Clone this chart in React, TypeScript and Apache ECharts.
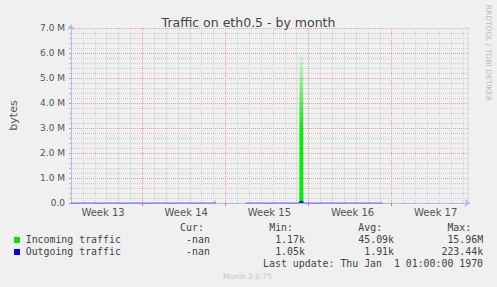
import React, { useEffect, useRef } from "react";
import * as echarts from "echarts";

const chartTitle = "Traffic on eth0.5 - by month";
const yAxisName = "bytes";
const yMin = 0;
const yMax = 7e6;
const yInterval = 1e6;
const xMinDays = 0;
const xMaxDays = 33.42;
const weekBoundaries = [6, 13, 20, 27];
const weekLabelPositions = [2.7, 9.7, 16.7, 23.7, 30.7];
const weekLabels = ["Week 13", "Week 14", "Week 15", "Week 16", "Week 17"];

// [day offset, bytes]; null breaks the line (no data)
const incomingTraffic: [number, number | null][] = [
  [0, 1250], [2.5, 1180], [5, 1310], [7.5, 1270], [10, 1220],
  [12.12, 1300], [12.17, 140000], [12.21, 1400], [12.3, null],
  [14.67, 1200], [17, 1260], [19.22, 1350], [19.25, 5930000],
  [19.53, 5930000], [19.56, 1400], [22, 1240], [24.5, 1190], [26.25, 1210],
];
const outgoingTraffic: [number, number | null][] = [
  [0, 1080], [2.5, 1050], [5, 1120], [7.5, 1090], [10, 1060],
  [12.17, 1100], [12.3, null],
  [14.67, 1070], [17, 1110], [19.22, 1150], [19.25, 70000],
  [19.53, 70000], [19.56, 1150], [22, 1080], [24.5, 1060], [26.25, 1090],
];

const legendNames = ["Incoming traffic", "Outgoing traffic"];
const legendColors = ["#00e800", "#0000ff"];
const statHeaders = ["Cur:", "Min:", "Avg:", "Max:"];
const incomingStats = ["-nan", "1.17k", "45.09k", "15.96M"];
const outgoingStats = ["-nan", "1.05k", "1.91k", "223.44k"];
const lastUpdate = "Last update: Thu Jan  1 01:00:00 1970";
const sideCredit = "RRDTOOL / TOBI OETIKER";
const footer = "Munin 2.0.75";

export default function App() {
  const ref = useRef<HTMLDivElement>(null);
  useEffect(() => {
    const chart = echarts.init(ref.current!, null, { renderer: "svg" });
    const mono = "DejaVu Sans Mono";
    const x0 = 25.7;
    const cw = 5.94;
    const headerEndCols = [30, 45, 60, 75];
    const valueEndCols = [31, 47, 62, 77];
    const rowY = [227.5, 239.5, 251.5, 263.5];
    const textColor = "#444";
    const graphics: any[] = [];
    statHeaders.forEach((h, i) => {
      graphics.push({ type: "text", x: x0 + headerEndCols[i] * cw, y: rowY[0],
        style: { text: h, font: `9.9px '${mono}'`, fill: textColor, textAlign: "right", textVerticalAlign: "middle" } });
    });
    [incomingStats, outgoingStats].forEach((row, r) => {
      graphics.push({ type: "rect", shape: { x: 14, y: rowY[r + 1] - 2.5, width: 6, height: 6 }, style: { fill: legendColors[r] } });
      graphics.push({ type: "text", x: x0, y: rowY[r + 1],
        style: { text: legendNames[r], font: `9.9px '${mono}'`, fill: textColor, textAlign: "left", textVerticalAlign: "middle" } });
      row.forEach((v, i) => {
        graphics.push({ type: "text", x: x0 + valueEndCols[i] * cw, y: rowY[r + 1],
          style: { text: v, font: `9.9px '${mono}'`, fill: textColor, textAlign: "right", textVerticalAlign: "middle" } });
      });
    });
    graphics.push({ type: "text", x: x0 + 77 * cw, y: rowY[3],
      style: { text: lastUpdate, font: `9.9px '${mono}'`, fill: textColor, textAlign: "right", textVerticalAlign: "middle" } });
    graphics.push({ type: "text", x: 488, y: 53, rotation: -Math.PI / 2,
      style: { text: sideCredit, font: "7.5px 'DejaVu Sans'", fill: "#bbbbbb", textAlign: "center", textVerticalAlign: "middle" } });
    graphics.push({ type: "text", x: 247.5, y: 276,
      style: { text: footer, font: "7.5px 'DejaVu Sans'", fill: "#c4c4c4", textAlign: "center", textVerticalAlign: "middle" } });

    const gray = "#cdcdcd";
    const red = "#e6a0a0";
    const dot = [1, 1];
    const axisBlue = "#b8b8f0";
    // one colour per day line (0..33 plus the right edge): week boundaries red, others gray
    const dayLineColors: string[] = [];
    const lineCount = Math.floor(xMaxDays) + 2;
    for (let i = 0; i < lineCount; i++) dayLineColors.push(weekBoundaries.includes(i) ? red : gray);

    const option: any = {
      animation: false,
      backgroundColor: "#f0f0f0",
      title: {
        text: chartTitle, left: "center", top: 11,
        textStyle: { fontFamily: "DejaVu Sans", fontSize: 12.5, fontWeight: "normal", color: "#444" },
      },
      grid: { left: 67, top: 28, width: 401, height: 175, containLabel: false },
      xAxis: [
        {
          type: "value", min: xMinDays, max: xMaxDays, interval: 1,
          axisLine: { show: true, lineStyle: { color: axisBlue, width: 1 }, symbol: ["none", "arrow"], symbolSize: [6, 6], symbolOffset: [0, 2.5] },
          axisTick: { show: false }, axisLabel: { show: false },
          splitLine: { show: true, showMinLine: true, showMaxLine: true, lineStyle: { color: dayLineColors, type: dot, width: 1 } },
        },
        {
          type: "value", min: xMinDays, max: xMaxDays, position: "bottom",
          axisLine: { show: false },
          axisTick: { show: true, length: 3, inside: false, lineStyle: { color: "#e08080" }, customValues: weekBoundaries },
          axisLabel: {
            show: true, margin: 4, customValues: weekLabelPositions,
            fontFamily: "DejaVu Sans", fontSize: 10, color: "#555",
            formatter: (v: number) => {
              const i = weekLabelPositions.findIndex((p) => Math.abs(p - v) < 1e-6);
              return i >= 0 ? weekLabels[i] : "";
            },
          },
          splitLine: { show: false },
        },
      ],
      yAxis: {
        type: "value", min: yMin, max: yMax, interval: yInterval,
        name: yAxisName, nameLocation: "middle", nameRotate: 90, nameGap: 52,
        nameTextStyle: { fontFamily: "DejaVu Sans", fontSize: 11, color: "#555" },
        axisLine: { show: true, lineStyle: { color: axisBlue, width: 1 }, symbol: ["none", "arrow"], symbolSize: [6, 6], symbolOffset: [0, 4] },
        axisTick: { show: true, length: 2, lineStyle: { color: "#e08080" } },
        minorTick: { show: true, splitNumber: 5, length: 2, lineStyle: { color: "#c0c0c0" } },
        axisLabel: {
          margin: 6, fontFamily: "DejaVu Sans", fontSize: 9, color: "#555",
          formatter: (v: number) => (v === 0 ? "0.0" : (v / 1e6).toFixed(1) + " M"),
        },
        splitLine: { show: true, lineStyle: { color: red, type: dot, width: 1 } },
        minorSplitLine: { show: true, lineStyle: { color: gray, type: dot, width: 1 } },
      },
      graphic: graphics,
      series: [
        {
          name: legendNames[0], type: "line", xAxisIndex: 0, data: incomingTraffic,
          showSymbol: false, connectNulls: false, clip: false, z: 3,
          lineStyle: { width: 0, color: legendColors[0] },
          areaStyle: {
            opacity: 1,
            color: new echarts.graphic.LinearGradient(0, 0, 0, 1, [
              { offset: 0, color: "rgba(0,240,0,0.06)" },
              { offset: 0.5, color: "rgba(0,240,0,1)" },
              { offset: 1, color: "rgba(0,240,0,1)" },
            ]),
          },
        },
        {
          name: legendNames[1], type: "line", xAxisIndex: 0, data: outgoingTraffic,
          showSymbol: false, connectNulls: false, clip: false, z: 4,
          lineStyle: { width: 1, color: "rgba(40,40,230,0.6)" },
          areaStyle: { opacity: 1, color: legendColors[1] },
        },
      ],
    };
    chart.setOption(option);
    return () => chart.dispose();
  }, []);
  return <div ref={ref} style={{ position: "fixed", left: 0, top: 0, width: 497, height: 287 }} />;
}
